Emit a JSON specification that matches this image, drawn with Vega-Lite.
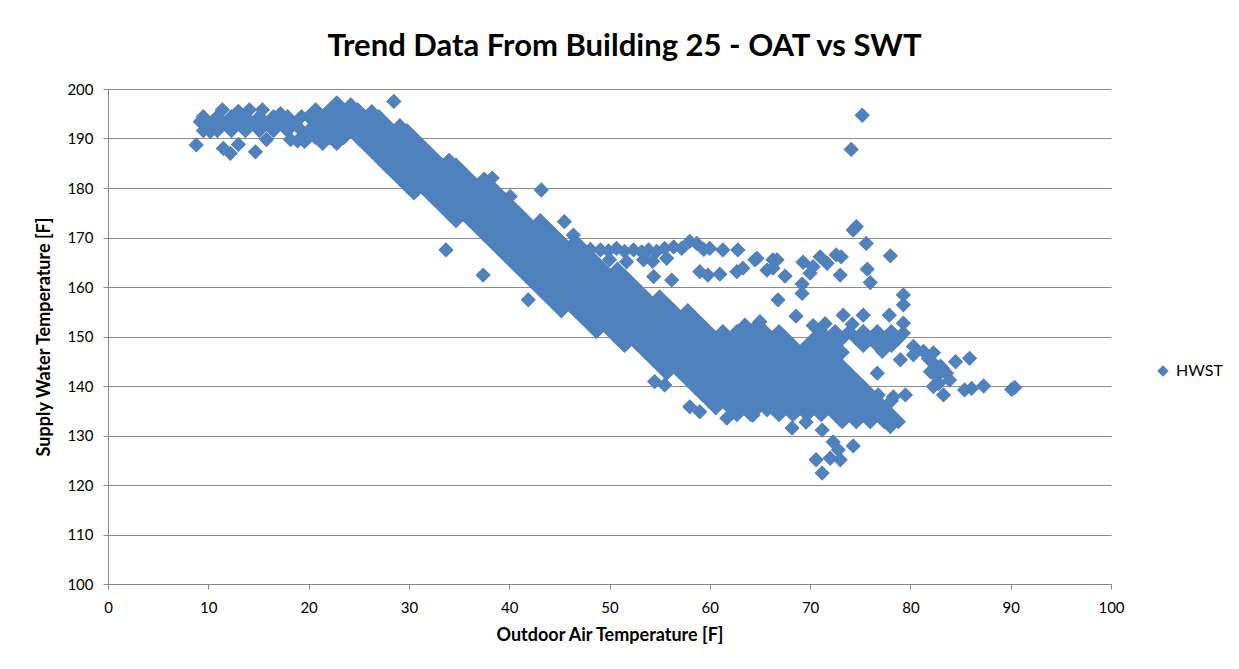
{
  "$schema": "https://vega.github.io/schema/vega-lite/v6.json",
  "width": 1003,
  "height": 495,
  "autosize": {"type": "none"},
  "padding": {"left": 108, "top": 89, "right": 128, "bottom": 85},
  "background": "white",
  "title": {"text": "Trend Data From Building 25 - OAT vs SWT", "font": "Lato", "fontSize": 31, "fontWeight": "bold", "color": "#000000", "anchor": "middle", "dx": 15, "offset": 19},
  "config": {"view": {"stroke": null}, "font": "Lato"},
  "data": {"values": [
    {"x":8.8,"y":188.7},{"x":9.2,"y":193.4},{"x":9.5,"y":191.6},{"x":9.5,"y":194.4},{"x":10.2,"y":193},{"x":10.2,"y":191.4},{"x":10.9,"y":191.6},{"x":10.9,"y":194.4},{"x":11.6,"y":193},{"x":11.4,"y":195.8},{"x":12.3,"y":191.6},{"x":12.3,"y":194.4},{"x":13,"y":193},{"x":13,"y":195.5},{"x":13.7,"y":191.6},{"x":13.7,"y":194.4},{"x":14.4,"y":193},{"x":14.1,"y":195.8},{"x":15.1,"y":191.6},{"x":15.1,"y":194.4},{"x":15.4,"y":195.8},{"x":15.8,"y":193},{"x":15.8,"y":189.8},{"x":16.5,"y":191.6},{"x":16.5,"y":194.4},{"x":17.2,"y":193},{"x":17.2,"y":195},{"x":17.9,"y":191.6},{"x":17.9,"y":194.4},{"x":18.6,"y":193},{"x":18.2,"y":189.8},{"x":18.9,"y":189.5},{"x":19.3,"y":191.6},{"x":19.3,"y":194.4},{"x":19.6,"y":189.4},{"x":11.5,"y":188},{"x":12.2,"y":187},{"x":13,"y":188.8},{"x":14.7,"y":187.3},
    {"x":20,"y":191.6},{"x":20,"y":194.4},
    {"x":20.7,"y":190.2},{"x":20.7,"y":193},{"x":20.7,"y":195.8},
    {"x":21.4,"y":189},{"x":21.4,"y":191.6},{"x":21.4,"y":194.4},
    {"x":22.1,"y":190.2},{"x":22.1,"y":193},{"x":22.1,"y":195.8},
    {"x":22.8,"y":189},{"x":22.8,"y":191.6},{"x":22.8,"y":194.4},{"x":22.8,"y":197.2},
    {"x":23.5,"y":190.2},{"x":23.5,"y":193},{"x":23.5,"y":195.8},
    {"x":24.2,"y":191.6},{"x":24.2,"y":194.4},{"x":24.2,"y":196.8},
    {"x":24.9,"y":190.2},{"x":24.9,"y":193},{"x":24.9,"y":195.8},
    {"x":25.6,"y":188.8},{"x":25.6,"y":191.6},{"x":25.6,"y":194.4},
    {"x":26.3,"y":187.4},{"x":26.3,"y":190.2},{"x":26.3,"y":193},{"x":26.3,"y":195.4},
    {"x":27,"y":186},{"x":27,"y":188.8},{"x":27,"y":191.6},{"x":27,"y":194.4},
    {"x":27.7,"y":184.6},{"x":27.7,"y":187.4},{"x":27.7,"y":190.2},{"x":27.7,"y":193},
    {"x":28.4,"y":183.2},{"x":28.4,"y":186},{"x":28.4,"y":188.8},{"x":28.4,"y":191.6},{"x":28.5,"y":197.5},
    {"x":29.1,"y":181.8},{"x":29.1,"y":184.6},{"x":29.1,"y":187.4},{"x":29.1,"y":190.2},{"x":29.1,"y":192.6},
    {"x":29.8,"y":180.4},{"x":29.8,"y":183.2},{"x":29.8,"y":186},{"x":29.8,"y":188.8},{"x":29.8,"y":191.6},
    {"x":30.5,"y":179},{"x":30.5,"y":181.8},{"x":30.5,"y":184.6},{"x":30.5,"y":187.4},{"x":30.5,"y":190.2},
    {"x":31.2,"y":180.4},{"x":31.2,"y":183.2},{"x":31.2,"y":186},{"x":31.2,"y":188.8},
    {"x":31.9,"y":179},{"x":31.9,"y":181.8},{"x":31.9,"y":184.6},{"x":31.9,"y":187.4},
    {"x":32.6,"y":177.6},{"x":32.6,"y":180.4},{"x":32.6,"y":183.2},{"x":32.6,"y":186},
    {"x":33.3,"y":176.2},{"x":33.3,"y":179},{"x":33.3,"y":181.8},{"x":33.3,"y":184.6},{"x":33.7,"y":167.5},
    {"x":34,"y":174.8},{"x":34,"y":177.6},{"x":34,"y":180.4},{"x":34,"y":183.2},{"x":34,"y":185.6},
    {"x":34.7,"y":173.4},{"x":34.7,"y":176.2},{"x":34.7,"y":179},{"x":34.7,"y":181.8},{"x":34.7,"y":184.6},
    {"x":35.4,"y":174.8},{"x":35.4,"y":177.6},{"x":35.4,"y":180.4},{"x":35.4,"y":183.2},
    {"x":36.1,"y":173.4},{"x":36.1,"y":176.2},{"x":36.1,"y":179},{"x":36.1,"y":181.8},
    {"x":36.8,"y":172},{"x":36.8,"y":174.8},{"x":36.8,"y":177.6},{"x":36.8,"y":180.4},
    {"x":37.5,"y":170.6},{"x":37.5,"y":173.4},{"x":37.5,"y":176.2},{"x":37.5,"y":179},{"x":37.5,"y":181.8},{"x":37.4,"y":162.4},
    {"x":38.2,"y":169.2},{"x":38.2,"y":172},{"x":38.2,"y":174.8},{"x":38.2,"y":177.6},{"x":38.2,"y":180.4},{"x":38.3,"y":182},
    {"x":38.9,"y":167.8},{"x":38.9,"y":170.6},{"x":38.9,"y":173.4},{"x":38.9,"y":176.2},{"x":38.9,"y":179},
    {"x":39.6,"y":166.4},{"x":39.6,"y":169.2},{"x":39.6,"y":172},{"x":39.6,"y":174.8},{"x":39.6,"y":177.6},
    {"x":40.3,"y":165},{"x":40.3,"y":167.8},{"x":40.3,"y":170.6},{"x":40.3,"y":173.4},{"x":40.3,"y":176.2},{"x":40.1,"y":178.3},
    {"x":41,"y":163.6},{"x":41,"y":166.4},{"x":41,"y":169.2},{"x":41,"y":172},{"x":41,"y":174.8},
    {"x":41.7,"y":162.2},{"x":41.7,"y":165},{"x":41.7,"y":167.8},{"x":41.7,"y":170.6},{"x":41.7,"y":173.4},{"x":41.9,"y":157.4},
    {"x":42.4,"y":160.8},{"x":42.4,"y":163.6},{"x":42.4,"y":166.4},{"x":42.4,"y":169.2},{"x":42.4,"y":172},
    {"x":43.1,"y":159.4},{"x":43.1,"y":162.2},{"x":43.1,"y":165},{"x":43.1,"y":167.8},{"x":43.1,"y":170.6},{"x":43.1,"y":173.4},{"x":43.2,"y":179.6},
    {"x":43.8,"y":158},{"x":43.8,"y":160.8},{"x":43.8,"y":163.6},{"x":43.8,"y":166.4},{"x":43.8,"y":169.2},{"x":43.8,"y":172},
    {"x":44.5,"y":156.6},{"x":44.5,"y":159.4},{"x":44.5,"y":162.2},{"x":44.5,"y":165},{"x":44.5,"y":167.8},{"x":44.5,"y":170.6},
    {"x":45.2,"y":155.2},{"x":45.2,"y":158},{"x":45.2,"y":160.8},{"x":45.2,"y":163.6},{"x":45.2,"y":166.4},{"x":45.2,"y":169.2},{"x":45.5,"y":173.2},
    {"x":45.9,"y":156.6},{"x":45.9,"y":159.4},{"x":45.9,"y":162.2},{"x":45.9,"y":165},{"x":45.9,"y":167.8},{"x":46.4,"y":170.5},
    {"x":46.6,"y":155.2},{"x":46.6,"y":158},{"x":46.6,"y":160.8},{"x":46.6,"y":163.6},{"x":46.6,"y":166.4},{"x":46.6,"y":169.2},
    {"x":47.3,"y":153.8},{"x":47.3,"y":156.6},{"x":47.3,"y":159.4},{"x":47.3,"y":162.2},{"x":47.3,"y":165},{"x":47.3,"y":167.8},
    {"x":48,"y":152.4},{"x":48,"y":155.2},{"x":48,"y":158},{"x":48,"y":160.8},{"x":48,"y":163.6},{"x":48,"y":166.4},
    {"x":48.7,"y":151},{"x":48.7,"y":153.8},{"x":48.7,"y":156.6},{"x":48.7,"y":159.4},{"x":48.7,"y":162.2},{"x":48.7,"y":165},
    {"x":49.4,"y":152.4},{"x":49.4,"y":155.2},{"x":49.4,"y":158},{"x":49.4,"y":160.8},{"x":49.4,"y":163.6},
    {"x":50.1,"y":151},{"x":50.1,"y":153.8},{"x":50.1,"y":156.6},{"x":50.1,"y":159.4},{"x":50.1,"y":162.2},
    {"x":50.8,"y":149.6},{"x":50.8,"y":152.4},{"x":50.8,"y":155.2},{"x":50.8,"y":158},{"x":50.8,"y":160.8},{"x":50.8,"y":163.6},
    {"x":51.5,"y":148.2},{"x":51.5,"y":151},{"x":51.5,"y":153.8},{"x":51.5,"y":156.6},{"x":51.5,"y":159.4},{"x":51.5,"y":162.2},
    {"x":52.2,"y":149.6},{"x":52.2,"y":152.4},{"x":52.2,"y":155.2},{"x":52.2,"y":158},{"x":52.2,"y":160.8},
    {"x":52.9,"y":148.2},{"x":52.9,"y":151},{"x":52.9,"y":153.8},{"x":52.9,"y":156.6},{"x":52.9,"y":159.4},
    {"x":53.6,"y":146.8},{"x":53.6,"y":149.6},{"x":53.6,"y":152.4},{"x":53.6,"y":155.2},{"x":53.6,"y":158},
    {"x":54.3,"y":145.4},{"x":54.3,"y":148.2},{"x":54.3,"y":151},{"x":54.3,"y":153.8},{"x":54.3,"y":156.6},
    {"x":55,"y":144},{"x":55,"y":146.8},{"x":55,"y":149.6},{"x":55,"y":152.4},{"x":55,"y":155.2},{"x":55,"y":158},
    {"x":55.7,"y":142.6},{"x":55.7,"y":145.4},{"x":55.7,"y":148.2},{"x":55.7,"y":151},{"x":55.7,"y":153.8},{"x":55.7,"y":156.6},
    {"x":56.4,"y":144},{"x":56.4,"y":146.8},{"x":56.4,"y":149.6},{"x":56.4,"y":152.4},{"x":56.4,"y":155.2},
    {"x":57.1,"y":142.6},{"x":57.1,"y":145.4},{"x":57.1,"y":148.2},{"x":57.1,"y":151},{"x":57.1,"y":153.8},
    {"x":57.8,"y":141.2},{"x":57.8,"y":144},{"x":57.8,"y":146.8},{"x":57.8,"y":149.6},{"x":57.8,"y":152.4},{"x":57.8,"y":155.2},
    {"x":58.5,"y":139.8},{"x":58.5,"y":142.6},{"x":58.5,"y":145.4},{"x":58.5,"y":148.2},{"x":58.5,"y":151},{"x":58.5,"y":153.8},
    {"x":59.2,"y":138.4},{"x":59.2,"y":141.2},{"x":59.2,"y":144},{"x":59.2,"y":146.8},{"x":59.2,"y":149.6},{"x":59.2,"y":152.4},
    {"x":59.9,"y":137},{"x":59.9,"y":139.8},{"x":59.9,"y":142.6},{"x":59.9,"y":145.4},{"x":59.9,"y":148.2},{"x":59.9,"y":151},
    {"x":60.6,"y":135.6},{"x":60.6,"y":138.4},{"x":60.6,"y":141.2},{"x":60.6,"y":144},{"x":60.6,"y":146.8},{"x":60.6,"y":149.6},
    {"x":61.3,"y":137},{"x":61.3,"y":139.8},{"x":61.3,"y":142.6},{"x":61.3,"y":145.4},{"x":61.3,"y":148.2},{"x":61.3,"y":151},
    {"x":62,"y":135.6},{"x":62,"y":138.4},{"x":62,"y":141.2},{"x":62,"y":144},{"x":62,"y":146.8},{"x":62,"y":149.6},
    {"x":62.7,"y":134.2},{"x":62.7,"y":137},{"x":62.7,"y":139.8},{"x":62.7,"y":142.6},{"x":62.7,"y":145.4},{"x":62.7,"y":148.2},{"x":62.7,"y":151},
    {"x":63.4,"y":135.6},{"x":63.4,"y":138.4},{"x":63.4,"y":141.2},{"x":63.4,"y":144},{"x":63.4,"y":146.8},{"x":63.4,"y":149.6},
    {"x":64.1,"y":134.2},{"x":64.1,"y":137},{"x":64.1,"y":139.8},{"x":64.1,"y":142.6},{"x":64.1,"y":145.4},{"x":64.1,"y":148.2},{"x":64.1,"y":151},
    {"x":64.8,"y":135.6},{"x":64.8,"y":138.4},{"x":64.8,"y":141.2},{"x":64.8,"y":144},{"x":64.8,"y":146.8},{"x":64.8,"y":149.6},{"x":64.8,"y":152.4},
    {"x":65.5,"y":137},{"x":65.5,"y":139.8},{"x":65.5,"y":142.6},{"x":65.5,"y":145.4},{"x":65.5,"y":148.2},{"x":65.5,"y":151},
    {"x":66.2,"y":135.6},{"x":66.2,"y":138.4},{"x":66.2,"y":141.2},{"x":66.2,"y":144},{"x":66.2,"y":146.8},{"x":66.2,"y":149.6},
    {"x":66.9,"y":134.2},{"x":66.9,"y":137},{"x":66.9,"y":139.8},{"x":66.9,"y":142.6},{"x":66.9,"y":145.4},{"x":66.9,"y":148.2},{"x":66.9,"y":151},
    {"x":67.6,"y":135.6},{"x":67.6,"y":138.4},{"x":67.6,"y":141.2},{"x":67.6,"y":144},{"x":67.6,"y":146.8},{"x":67.6,"y":149.6},
    {"x":68.3,"y":134.2},{"x":68.3,"y":137},{"x":68.3,"y":139.8},{"x":68.3,"y":142.6},{"x":68.3,"y":145.4},{"x":68.3,"y":148.2},
    {"x":69,"y":135.6},{"x":69,"y":138.4},{"x":69,"y":141.2},{"x":69,"y":144},{"x":69,"y":146.8},
    {"x":69.7,"y":134.2},{"x":69.7,"y":137},{"x":69.7,"y":139.8},{"x":69.7,"y":142.6},{"x":69.7,"y":145.4},{"x":69.7,"y":148.2},
    {"x":70.4,"y":135.6},{"x":70.4,"y":138.4},{"x":70.4,"y":141.2},{"x":70.4,"y":144},{"x":70.4,"y":146.8},{"x":70.4,"y":149.6},
    {"x":71.1,"y":134.2},{"x":71.1,"y":137},{"x":71.1,"y":139.8},{"x":71.1,"y":142.6},{"x":71.1,"y":145.4},{"x":71.1,"y":148.2},{"x":71.1,"y":151},
    {"x":71.8,"y":135.6},{"x":71.8,"y":138.4},{"x":71.8,"y":141.2},{"x":71.8,"y":144},{"x":71.8,"y":146.8},{"x":71.8,"y":149.6},
    {"x":72.5,"y":134.2},{"x":72.5,"y":137},{"x":72.5,"y":139.8},{"x":72.5,"y":142.6},{"x":72.5,"y":145.4},{"x":72.5,"y":148.2},{"x":72.5,"y":151},
    {"x":73.2,"y":132.8},{"x":73.2,"y":135.6},{"x":73.2,"y":138.4},{"x":73.2,"y":141.2},{"x":73.2,"y":144},{"x":73.2,"y":146.8},{"x":73.2,"y":149.6},
    {"x":73.9,"y":134.2},{"x":73.9,"y":137},{"x":73.9,"y":139.8},{"x":73.9,"y":142.6},{"x":73.9,"y":151},
    {"x":74.6,"y":132.8},{"x":74.6,"y":135.6},{"x":74.6,"y":138.4},{"x":74.6,"y":141.2},{"x":74.6,"y":149.6},
    {"x":75.3,"y":134.2},{"x":75.3,"y":137},{"x":75.3,"y":139.8},{"x":75.3,"y":148.2},{"x":75.3,"y":151},
    {"x":76,"y":132.8},{"x":76,"y":135.6},{"x":76,"y":138.4},{"x":76,"y":149.6},
    {"x":76.7,"y":134.2},{"x":76.7,"y":137},{"x":76.7,"y":142.6},{"x":76.7,"y":148.2},{"x":76.7,"y":151},
    {"x":77.4,"y":132.8},{"x":77.4,"y":135.6},{"x":77.4,"y":149.6},
    {"x":78.1,"y":134.2},{"x":78.1,"y":137},{"x":78.1,"y":148.2},{"x":78.1,"y":151},
    {"x":78.8,"y":132.8},{"x":78.8,"y":149.6},
    {"x":47.1,"y":167.8},{"x":48.1,"y":167.6},{"x":49.1,"y":167.5},{"x":49.9,"y":167.3},{"x":50.7,"y":167.8},{"x":51.5,"y":167.2},{"x":52.4,"y":167.5},{"x":53.2,"y":167.1},{"x":53.9,"y":167.5},{"x":54.7,"y":167.2},{"x":55.5,"y":167.8},{"x":56.4,"y":168.1},{"x":57.2,"y":167.8},{"x":58,"y":169.2},{"x":58.7,"y":168.8},{"x":59.4,"y":167.6},{"x":60,"y":167.8},{"x":61.3,"y":167.5},{"x":62.8,"y":167.5},
    {"x":50,"y":165.5},{"x":51.7,"y":165.1},{"x":53.4,"y":165.5},{"x":54.3,"y":165.2},{"x":55.7,"y":165.8},{"x":54.4,"y":162.1},{"x":56.2,"y":161.4},
    {"x":59,"y":163.1},{"x":59.8,"y":162.4},{"x":61,"y":162.6},{"x":62.7,"y":163.1},{"x":63.3,"y":163.8},{"x":64.5,"y":165.5},{"x":64.7,"y":165.8},{"x":65.7,"y":163.4},{"x":66.3,"y":165.5},{"x":66.7,"y":165.5},{"x":66.3,"y":163.8},{"x":67.5,"y":162.2},{"x":66.8,"y":157.4},
    {"x":69.3,"y":165},{"x":70,"y":162.8},{"x":70.3,"y":164.1},{"x":71,"y":166.1},{"x":71.7,"y":164.8},{"x":72.6,"y":166.5},{"x":73.1,"y":166.1},{"x":73,"y":162.4},{"x":69.2,"y":160.6},{"x":69.2,"y":158.7},
    {"x":74.1,"y":187.8},{"x":75.2,"y":194.7},{"x":74.3,"y":171.5},{"x":74.6,"y":172.2},{"x":75.6,"y":168.8},{"x":78,"y":166.3},{"x":75.7,"y":163.6},{"x":76,"y":160.9},
    {"x":73.3,"y":154.3},{"x":75.3,"y":154.3},{"x":77.9,"y":154.3},{"x":68.6,"y":154.1},{"x":65,"y":153},{"x":63.5,"y":152.3},{"x":71.5,"y":152.6},{"x":70.3,"y":152.2},{"x":74.2,"y":152.5},
    {"x":68.2,"y":131.5},{"x":69.6,"y":132.7},{"x":71.2,"y":131.1},{"x":72.3,"y":128.7},{"x":72.8,"y":127.1},{"x":74.3,"y":127.9},{"x":70.6,"y":125.1},{"x":72,"y":125.4},{"x":73,"y":125.1},{"x":71.2,"y":122.4},{"x":76.8,"y":138.2},{"x":78,"y":131.8},{"x":78.3,"y":137.8},
    {"x":58,"y":135.8},{"x":59,"y":134.8},{"x":61.7,"y":133.5},{"x":64.3,"y":134.1},{"x":65.7,"y":135.2},{"x":54.5,"y":140.9},{"x":55.5,"y":140.2},
    {"x":79.3,"y":158.4},{"x":79.3,"y":156.4},{"x":79.3,"y":152.7},{"x":79.3,"y":150.7},{"x":80.3,"y":148},{"x":80.3,"y":146.3},{"x":81.3,"y":147},{"x":82.3,"y":146.7},{"x":82.3,"y":144.6},{"x":84.5,"y":144.9},{"x":85.9,"y":145.6},{"x":82,"y":142.9},{"x":82.6,"y":141.9},{"x":83.6,"y":142.6},{"x":82.3,"y":139.9},{"x":83.9,"y":141.2},{"x":83.3,"y":138.2},{"x":85.4,"y":139.2},{"x":86.1,"y":139.5},{"x":87.3,"y":140},{"x":90.1,"y":139.3},{"x":90.4,"y":139.7},{"x":79.5,"y":138.2},{"x":79,"y":145.3},{"x":83,"y":144},{"x":81.8,"y":145.5},{"x":83.2,"y":143.5},{"x":82.8,"y":140.5},{"x":78.3,"y":150.3},{"x":77.2,"y":147}
  ]},
  "mark": {"type": "point", "shape": "diamond", "filled": true, "size": 185, "opacity": 1, "stroke": "#4F81BD", "strokeWidth": 1.2},
  "encoding": {
    "x": {"field": "x", "type": "quantitative", "scale": {"domain": [0, 100], "nice": false, "zero": false},
      "axis": {"title": "Outdoor Air Temperature [F]", "values": [0,10,20,30,40,50,60,70,80,90,100], "grid": false, "labelFlush": false, "labelOverlap": false, "domainColor": "#868686", "tickColor": "#868686", "tickSize": 5, "labelFontSize": 15, "labelColor": "#000000", "labelPadding": 11, "titleFontSize": 18, "titleFontWeight": "bold", "titleColor": "#000000", "titlePadding": 11}},
    "y": {"field": "y", "type": "quantitative", "scale": {"domain": [100, 200], "nice": false, "zero": false},
      "axis": {"title": "Supply Water Temperature [F]", "values": [100,110,120,130,140,150,160,170,180,190,200], "grid": true, "gridColor": "#8c8c8c", "labelFlush": false, "labelOverlap": false, "domainColor": "#868686", "tickColor": "#868686", "tickSize": 5, "labelFontSize": 15, "labelColor": "#000000", "labelPadding": 10, "titleFontSize": 18, "titleFontWeight": "bold", "titleColor": "#000000", "titlePadding": 13}},
    "color": {"datum": "HWST", "type": "nominal", "scale": {"range": ["#4F81BD"]},
      "legend": {"title": null, "orient": "none", "legendX": 1047, "legendY": 274, "symbolType": "diamond", "symbolSize": 130, "symbolStrokeWidth": 0, "labelFontSize": 16, "labelOffset": 5, "labelColor": "#000000"}}
  }
}
